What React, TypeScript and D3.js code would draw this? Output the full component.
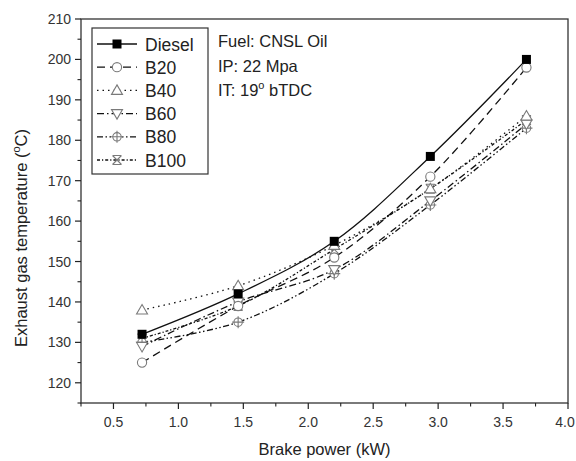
import React from "react";
import * as d3 from "d3";

const xValues = [0.72, 1.46, 2.2, 2.94, 3.68];
const seriesNames = ["Diesel", "B20", "B40", "B60", "B80", "B100"];
const dieselValues = [132, 142, 155, 176, 200];
const b20Values = [125, 139, 151, 171, 198];
const b40Values = [138, 144, 154, 168, 186];
const b60Values = [129, 140, 148, 165, 184];
const b80Values = [130, 135, 147, 164, 183];
const b100Values = [131, 139, 153, 168, 185];
const xTicks = [0.5, 1.0, 1.5, 2.0, 2.5, 3.0, 3.5, 4.0];
const yTicks = [120, 130, 140, 150, 160, 170, 180, 190, 200, 210];
const annotations = ["Fuel: CNSL Oil", "IP: 22 Mpa"];

const W = 576, H = 461;
const L = 81, R = 568, T = 19, B = 403;
const FONT = "'Liberation Sans', Arial, sans-serif";

const allValues = [dieselValues, b20Values, b40Values, b60Values, b80Values, b100Values];
const dashes = ["", "8,5", "1.5,4", "7,3,1.5,3", "6,2.5,1.5,2.5,1.5,2.5", "3,2,1.2,2"];
const markerKinds = ["square", "circle", "up", "down", "cplus", "hourglass"];

const x = d3.scaleLinear().domain([0.25, 4.0]).range([L, R]);
const y = d3.scaleLinear().domain([115, 210]).range([B, T]);

function Marker({ kind, cx, cy }: { kind: string; cx: number; cy: number }) {
  const s = "#7a7a7a";
  const sw = 1.1;
  if (kind === "square") return <rect x={cx - 4.5} y={cy - 4.5} width={9} height={9} fill="#000" />;
  if (kind === "circle") return <circle cx={cx} cy={cy} r={4.6} fill="#fff" stroke={s} strokeWidth={sw} />;
  if (kind === "up")
    return <path d={`M${cx},${cy - 5.5}L${cx + 5.5},${cy + 4}L${cx - 5.5},${cy + 4}Z`} fill="#fff" stroke={s} strokeWidth={sw} />;
  if (kind === "down")
    return <path d={`M${cx},${cy + 5.5}L${cx + 5.5},${cy - 4}L${cx - 5.5},${cy - 4}Z`} fill="#fff" stroke={s} strokeWidth={sw} />;
  if (kind === "cplus")
    return (
      <g fill="none" stroke={s} strokeWidth={sw}>
        <circle cx={cx} cy={cy} r={4.2} fill="#fff" />
        <path d={`M${cx - 6},${cy}H${cx + 6}M${cx},${cy - 6}V${cy + 6}`} />
      </g>
    );
  return (
    <g fill="none" stroke={s} strokeWidth={sw}>
      <path d={`M${cx - 4.5},${cy - 4.5}L${cx + 4.5},${cy + 4.5}M${cx + 4.5},${cy - 4.5}L${cx - 4.5},${cy + 4.5}M${cx - 4.5},${cy - 4.5}H${cx + 4.5}M${cx - 4.5},${cy + 4.5}H${cx + 4.5}`} />
    </g>
  );
}

export default function App() {
  const line = d3
    .line<number>()
    .x((_, i) => x(xValues[i]))
    .y((d) => y(d))
    .curve(d3.curveCatmullRom.alpha(0.5));

  const xMinor = d3.range(0.25, 4.001, 0.25).filter((v) => !xTicks.some((t) => Math.abs(t - v) < 1e-6));
  const yMinor = d3.range(115, 210.001, 5).filter((v) => !yTicks.includes(v));

  const legX0 = 97, legX1 = 137, legTextX = 145;
  const legY = (i: number) => 44 + i * 23.2;

  return (
    <svg width={W} height={H} style={{ position: "absolute", left: 0, top: 0, background: "#fff" }} fontFamily={FONT}>
      <rect x={0} y={0} width={W} height={H} fill="#fff" />
      <rect x={L} y={T} width={R - L} height={B - T} fill="none" stroke="#333" strokeWidth={1.3} />
      {xTicks.map((t) => (
        <g key={"xt" + t}>
          <line x1={x(t)} x2={x(t)} y1={B} y2={B + 6} stroke="#222" strokeWidth={1.2} />
          <text x={Math.min(x(t), 565)} y={B + 24} textAnchor="middle" fontSize={14} fill="#333">
            {t.toFixed(1)}
          </text>
        </g>
      ))}
      {xMinor.map((t) => (
        <line key={"xm" + t} x1={x(t)} x2={x(t)} y1={B} y2={B + 3.5} stroke="#222" strokeWidth={1.1} />
      ))}
      {yTicks.map((t) => (
        <g key={"yt" + t}>
          <line x1={L - 6} x2={L} y1={y(t)} y2={y(t)} stroke="#222" strokeWidth={1.2} />
          <text x={L - 10} y={y(t) + 5} textAnchor="end" fontSize={14} fill="#333">
            {t}
          </text>
        </g>
      ))}
      {yMinor.map((t) => (
        <line key={"ym" + t} x1={L - 3.5} x2={L} y1={y(t)} y2={y(t)} stroke="#222" strokeWidth={1.1} />
      ))}
      <text x={(L + R) / 2} y={455} textAnchor="middle" fontSize={16.5} fill="#222">
        Brake power (kW)
      </text>
      <text transform={`translate(27,${(T + B) / 2 + 27}) rotate(-90)`} textAnchor="middle" fontSize={16.5} fill="#222">
        Exhaust gas temperature (<tspan fontSize={11} dy={-7}>o</tspan>
        <tspan dy={7}>C)</tspan>
      </text>
      {allValues.map((vals, si) => (
        <path key={"l" + si} d={line(vals) || ""} fill="none" stroke="#111" strokeWidth={1.3} strokeDasharray={dashes[si]} />
      ))}
      {allValues
        .map((vals, si) => ({ vals, si }))
        .reverse()
        .map(({ vals, si }) =>
          vals.map((v, i) => <Marker key={`m${si}-${i}`} kind={markerKinds[si]} cx={x(xValues[i])} cy={y(v)} />)
        )}
      <rect x={92} y={28} width={116} height={146} fill="#fff" stroke="#333" strokeWidth={1.2} />
      {seriesNames.map((n, i) => (
        <g key={"lg" + n}>
          <line x1={legX0} x2={legX1} y1={legY(i)} y2={legY(i)} stroke="#111" strokeWidth={1.3} strokeDasharray={dashes[i]} />
          <Marker kind={markerKinds[i]} cx={(legX0 + legX1) / 2} cy={legY(i)} />
          <text x={legTextX} y={legY(i) + 6.5} fontSize={17.5} fill="#222">
            {n}
          </text>
        </g>
      ))}
      {annotations.map((a, i) => (
        <text key={a} x={218} y={47 + i * 24.5} fontSize={16.5} fill="#222">
          {a}
        </text>
      ))}
      <text x={218} y={47 + 2 * 24.5} fontSize={16.5} fill="#222">
        IT: 19<tspan fontSize={11} dy={-7}>o</tspan>
        <tspan dy={7}> bTDC</tspan>
      </text>
    </svg>
  );
}
